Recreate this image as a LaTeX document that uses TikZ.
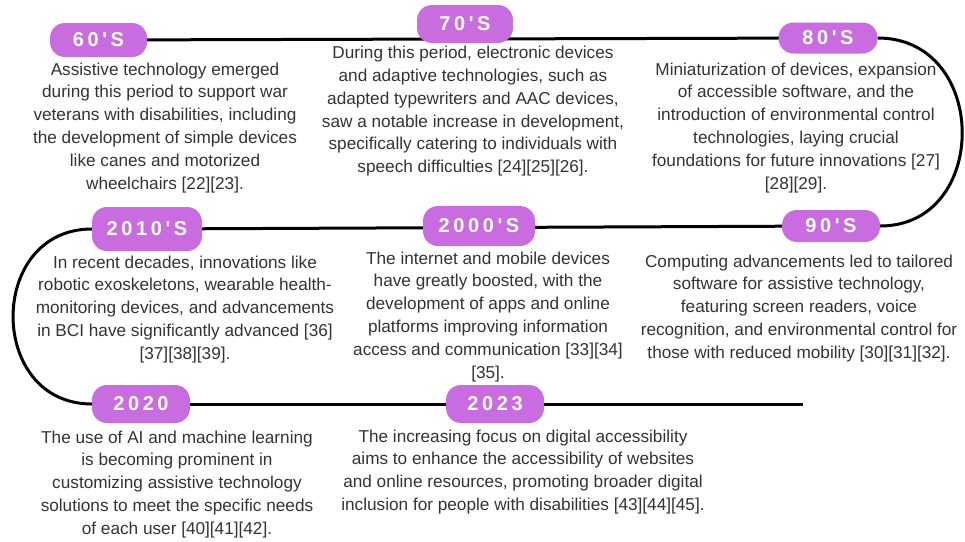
\documentclass[tikz,border=0pt]{standalone}
\usepackage{fontspec}
\setmainfont{Liberation Sans}
\newfontfamily\pillfont[LetterSpace=18,Ligatures=TeXOff]{Liberation Sans Bold}
\usetikzlibrary{backgrounds}
\definecolor{pillcol}{RGB}{200,108,224}
\definecolor{txtcol}{RGB}{51,51,51}
\begin{document}
\begin{tikzpicture}[x=1pt,y=-1pt,
  pill/.style={fill=pillcol, rounded corners=15pt, inner sep=0pt, text=white,
    font=\pillfont\fontsize{20}{20}\selectfont},
  desc/.style={anchor=north, align=center, inner sep=0pt, text=txtcol,
    font=\fontsize{17.2}{22.8}\selectfont},
  tl/.style={line width=3pt, black}]
\useasboundingbox (0,0) rectangle (965,541);

\node[pill, minimum width=97pt, minimum height=34pt] (p60) at (98.5,40) {60'S};
\node[pill, minimum width=96pt, minimum height=38pt] (p70) at (465,24) {70'S};
\node[pill, minimum width=99pt, minimum height=31pt] (p80) at (828,38) {80'S};
\node[pill, minimum width=98pt, minimum height=32pt] (p90) at (831,226) {90'S};
\node[pill, minimum width=112pt, minimum height=40pt] (p2000) at (479,226) {2000'S};
\node[pill, minimum width=110pt, minimum height=44pt] (p2010) at (147,229) {2010'S};
\node[pill, minimum width=98pt, minimum height=38pt] (p2020) at (141,404) {2020};
\node[pill, minimum width=98pt, minimum height=38pt] (p2023) at (495,404) {2023};
\coordinate (lineend) at (803,404);

\begin{scope}[on background layer]
\draw[tl] (p60.center) -- (p80.center);
\draw[tl] (p80.east) .. controls +(112,0) and +(110,0) .. (p90.east);
\draw[tl] (p90.center) -- (p2010.center);
\draw[tl] (p2010.west) .. controls +(-105,0) and +(-105,0) .. (p2020.west);
\draw[tl] (p2020.center) -- (p2023.center) -- (lineend);
\end{scope}

\node[desc] (t60) at (165,62.5) {Assistive technology emerged\\during this period to support war\\veterans with disabilities, including\\the development of simple devices\\like canes and motorized\\wheelchairs [22][23].};
\node[desc] (t70) at (473,46) {During this period, electronic devices\\and adaptive technologies, such as\\adapted typewriters and AAC devices,\\saw a notable increase in development,\\specifically catering to individuals with\\speech difficulties [24][25][26].};
\node[desc] (t80) at (796,62.5) {Miniaturization of devices, expansion\\of accessible software, and the\\introduction of environmental control\\technologies, laying crucial\\foundations for future innovations [27]\\{}[28][29].};
\node[desc] (t90) at (799,254.5) {Computing advancements led to tailored\\software for assistive technology,\\featuring screen readers, voice\\recognition, and environmental control for\\those with reduced mobility [30][31][32].};
\node[desc] (t2000) at (488,251.5) {The internet and mobile devices\\have greatly boosted, with the\\development of apps and online\\platforms improving information\\access and communication [33][34]\\{}[35].};
\node[desc] (t2010) at (185,255.5) {In recent decades, innovations like\\robotic exoskeletons, wearable health-\\monitoring devices, and advancements\\in BCI have significantly advanced [36]\\{}[37][38][39].};
\node[desc] (t2020) at (177,430.5) {The use of AI and machine learning\\is becoming prominent in\\customizing assistive technology\\solutions to meet the specific needs\\of each user [40][41][42].};
\node[desc] (t2023) at (523,429.5) {The increasing focus on digital accessibility\\aims to enhance the accessibility of websites\\and online resources, promoting broader digital\\inclusion for people with disabilities [43][44][45].};
\end{tikzpicture}
\end{document}
